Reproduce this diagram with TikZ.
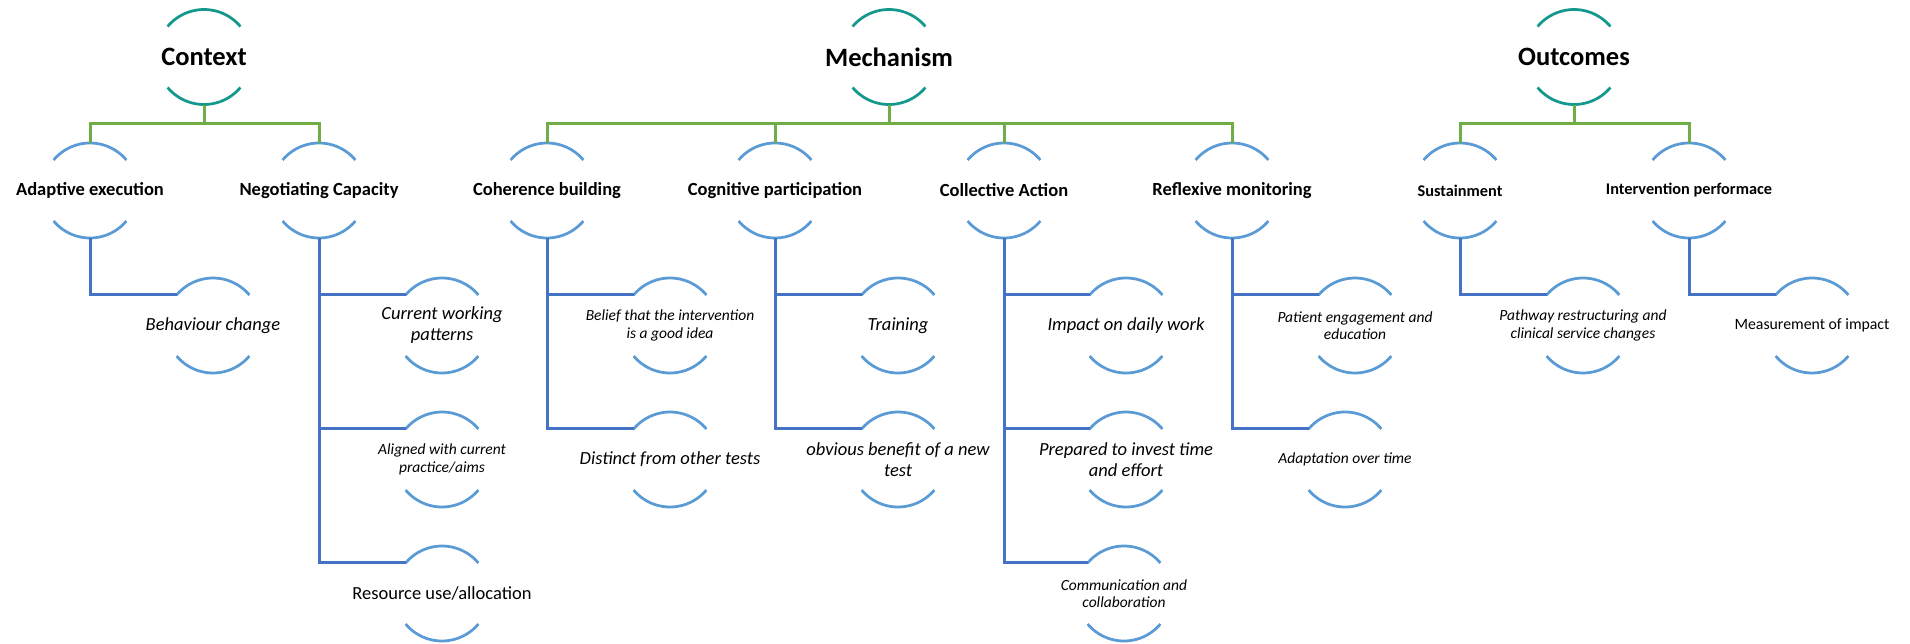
\documentclass[tikz,border=0pt]{standalone}
\usepackage{fontspec}
\setmainfont{Carlito}
\usetikzlibrary{calc}
\definecolor{TealClr}{RGB}{18,152,140}
\definecolor{GreenClr}{RGB}{112,173,71}
\definecolor{ArcClr}{RGB}{91,155,213}
\definecolor{LinkClr}{RGB}{68,114,196}

\tikzset{
  ring/.style={rectangle,inner sep=0pt,minimum height=95pt,align=center,
    append after command={\pgfextra{
      \draw[#1,line width=2.75pt]
        ($(\tikzlastnode.center)+(40:47.5pt)$) arc[start angle=40,end angle=140,radius=47.5pt]
        ($(\tikzlastnode.center)+(220:47.5pt)$) arc[start angle=220,end angle=320,radius=47.5pt];}}},
  headtext/.style={ring=TealClr,font=\fontsize{26.5}{31}\selectfont\bfseries},
  subtext/.style={ring=ArcClr,font=\fontsize{18.5}{22}\selectfont\bfseries},
  subsmall/.style={ring=ArcClr,font=\fontsize{16.3}{19}\selectfont\bfseries},
  leafbig/.style={ring=ArcClr,font=\fontsize{18.5}{21}\selectfont\itshape},
  leafsmall/.style={ring=ArcClr,font=\fontsize{15.5}{17.5}\selectfont\itshape},
  leafplain/.style={ring=ArcClr,font=\fontsize{18.5}{21}\selectfont},
  topline/.style={GreenClr,line width=3pt},
  leafline/.style={LinkClr,line width=3pt}
}

\begin{document}
\begin{tikzpicture}[x=1pt,y=1pt]
\useasboundingbox (0,0) rectangle (1910,-643);

% heads
\node[headtext] (ctx) at (204,-57) {Context};
\node[headtext] (mech) at (889,-57) {Mechanism};
\node[headtext] (outc) at (1574,-57) {Outcomes};

% second level
\node[subtext] (adapt) at (90,-190.5) {Adaptive execution};
\node[subtext] (nego) at (319,-190.5) {Negotiating Capacity};
\node[subtext] (coher) at (547,-190.5) {Coherence building};
\node[subtext] (cogn) at (775,-190.5) {Cognitive participation};
\node[subtext] (coll) at (1004,-190.5) {Collective Action};
\node[subtext] (refl) at (1232,-190.5) {Reflexive monitoring};
\node[subsmall] (sust) at (1460,-190.5) {Sustainment};
\node[subsmall] (intv) at (1689,-190.5) {Intervention performace};

% leaves
\node[leafbig] (behav) at (213,-325.5) {Behaviour change};
\node[leafbig] (curwork) at (442,-325.5) {Current working\\patterns};
\node[leafsmall] (aligned) at (442,-459.5) {Aligned with current\\practice/aims};
\node[leafplain] (resource) at (442,-593.5) {Resource use/allocation};
\node[leafsmall] (belief) at (670,-325.5) {Belief that the intervention\\is a good idea};
\node[leafbig] (distinct) at (670,-459.5) {Distinct from other tests};
\node[leafbig] (training) at (898,-325.5) {Training};
\node[leafbig] (obvious) at (898,-459.5) {obvious benefit of a new\\test};
\node[leafbig] (impact) at (1126,-325.5) {Impact on daily work};
\node[leafbig] (prepared) at (1126,-459.5) {Prepared to invest time\\and effort};
\node[leafsmall] (commun) at (1124,-593.5) {Communication and\\collaboration};
\node[leafsmall] (patient) at (1355,-325.5) {Patient engagement and\\education};
\node[leafsmall] (adaptime) at (1345,-459.5) {Adaptation over time};
\node[leafsmall] (pathway) at (1583,-325.5) {Pathway restructuring and\\clinical service changes};
\node[leafplain,font=\fontsize{15.8}{19}\selectfont] (measure) at (1812,-325.5) {Measurement of impact};

% heads to second level
\draw[topline] (ctx.south) -- ++(0,-19) -| (adapt.north);
\draw[topline] (ctx.south) -- ++(0,-19) -| (nego.north);
\draw[topline] (mech.south) -- ++(0,-19) -| (coher.north);
\draw[topline] (mech.south) -- ++(0,-19) -| (cogn.north);
\draw[topline] (mech.south) -- ++(0,-19) -| (coll.north);
\draw[topline] (mech.south) -- ++(0,-19) -| (refl.north);
\draw[topline] (outc.south) -- ++(0,-19) -| (sust.north);
\draw[topline] (outc.south) -- ++(0,-19) -| (intv.north);

% second level to leaves
\draw[leafline] (adapt.south) |- ($(behav.center)+(140:47.5pt)$);
\draw[leafline] (nego.south) |- ($(curwork.center)+(140:47.5pt)$);
\draw[leafline] (nego.south) |- ($(aligned.center)+(140:47.5pt)$);
\draw[leafline] (nego.south) |- ($(resource.center)+(140:47.5pt)$);
\draw[leafline] (coher.south) |- ($(belief.center)+(140:47.5pt)$);
\draw[leafline] (coher.south) |- ($(distinct.center)+(140:47.5pt)$);
\draw[leafline] (cogn.south) |- ($(training.center)+(140:47.5pt)$);
\draw[leafline] (cogn.south) |- ($(obvious.center)+(140:47.5pt)$);
\draw[leafline] (coll.south) |- ($(impact.center)+(140:47.5pt)$);
\draw[leafline] (coll.south) |- ($(prepared.center)+(140:47.5pt)$);
\draw[leafline] (coll.south) |- ($(commun.center)+(140:47.5pt)$);
\draw[leafline] (refl.south) |- ($(patient.center)+(140:47.5pt)$);
\draw[leafline] (refl.south) |- ($(adaptime.center)+(140:47.5pt)$);
\draw[leafline] (sust.south) |- ($(pathway.center)+(140:47.5pt)$);
\draw[leafline] (intv.south) |- ($(measure.center)+(140:47.5pt)$);

\end{tikzpicture}
\end{document}
